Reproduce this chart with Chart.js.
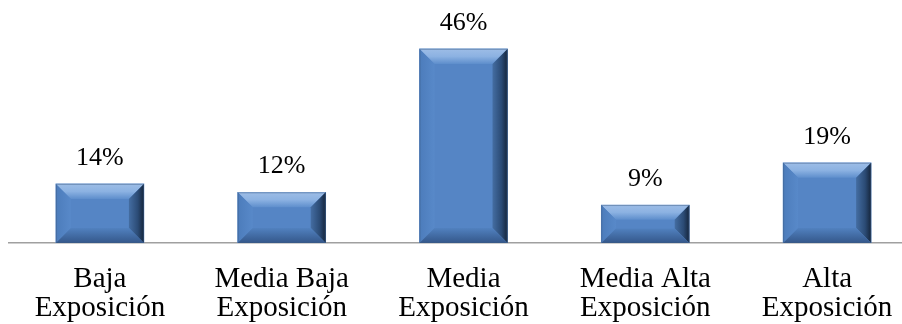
<!DOCTYPE html>
<html>
<head>
<meta charset="utf-8">
<script src="https://cdn.jsdelivr.net/npm/chart.js@4/dist/chart.umd.min.js"></script>
<style>
    html, body { margin: 0; padding: 0; background: #fff; overflow: hidden; }
    #wrap { position: relative; width: 918px; height: 324px; }
</style>
</head>
<body>
<div id="wrap"><canvas id="chart"></canvas></div>
<script>
const categories = [
    ['Baja', 'Exposición'],
    ['Media Baja', 'Exposición'],
    ['Media', 'Exposición'],
    ['Media Alta', 'Exposición'],
    ['Alta', 'Exposición'],
];
const values = [14, 12, 46, 9, 19];
const valueLabels = ['14%', '12%', '46%', '9%', '19%'];

const serif = "'Liberation Serif', 'Times New Roman', serif";

// paints the beveled look over each bar using the bar element geometry
const bevel = {
    id: 'bevel',
    afterDatasetsDraw(chart) {
        const ctx = chart.ctx;
        chart.getDatasetMeta(0).data.forEach(bar => {
            const l = bar.x - bar.width / 2, r = bar.x + bar.width / 2;
            const t = bar.y, b = bar.base;
            const h = b - t;
            const s = Math.min(15, h / 2.6);
            ctx.save();

            // top band
            let g = ctx.createLinearGradient(0, t, 0, t + s);
            g.addColorStop(0, '#9dbde6');
            g.addColorStop(0.5, '#8cb2e2');
            g.addColorStop(1, '#5e8ecc');
            ctx.fillStyle = g;
            ctx.beginPath();
            ctx.moveTo(l, t); ctx.lineTo(r, t); ctx.lineTo(r - s, t + s); ctx.lineTo(l + s, t + s);
            ctx.closePath(); ctx.fill();

            // left band
            g = ctx.createLinearGradient(l, 0, l + s, 0);
            g.addColorStop(0, '#4c7cbb');
            g.addColorStop(1, '#5889c9');
            ctx.fillStyle = g;
            ctx.beginPath();
            ctx.moveTo(l, t); ctx.lineTo(l + s, t + s); ctx.lineTo(l + s, b - s); ctx.lineTo(l, b);
            ctx.closePath(); ctx.fill();

            // right band
            g = ctx.createLinearGradient(r - s, 0, r, 0);
            g.addColorStop(0, '#446da2');
            g.addColorStop(0.6, '#2b4b75');
            g.addColorStop(1, '#15253b');
            ctx.fillStyle = g;
            ctx.beginPath();
            ctx.moveTo(r, t); ctx.lineTo(r, b); ctx.lineTo(r - s, b - s); ctx.lineTo(r - s, t + s);
            ctx.closePath(); ctx.fill();

            // bottom band
            g = ctx.createLinearGradient(0, b - s, 0, b);
            g.addColorStop(0, '#5181bf');
            g.addColorStop(1, '#34578a');
            ctx.fillStyle = g;
            ctx.beginPath();
            ctx.moveTo(l, b); ctx.lineTo(r, b); ctx.lineTo(r - s, b - s); ctx.lineTo(l + s, b - s);
            ctx.closePath(); ctx.fill();

            ctx.strokeStyle = 'rgba(60,90,130,0.45)';
            ctx.lineWidth = 1;
            ctx.strokeRect(l + 0.5, t + 0.5, r - l - 1, h - 1);
            ctx.restore();
        });
    }
};

// value labels above bars
const topLabels = {
    id: 'topLabels',
    afterDatasetsDraw(chart) {
        const ctx = chart.ctx;
        ctx.save();
        ctx.font = '26px ' + serif;
        ctx.fillStyle = '#000';
        ctx.textAlign = 'center';
        ctx.textBaseline = 'alphabetic';
        chart.getDatasetMeta(0).data.forEach((bar, i) => {
            ctx.fillText(valueLabels[i], bar.x, bar.y - 19);
        });
        ctx.restore();
    }
};

new Chart(document.getElementById('chart'), {
    type: 'bar',
    data: {
        labels: categories,
        datasets: [{
            data: values,
            backgroundColor: '#5585c5',
            borderWidth: 0,
            barThickness: 88,
        }],
    },
    options: {
        responsive: true,
        maintainAspectRatio: false,
        animation: false,
        layout: { padding: { left: 9, right: 0, top: 32, bottom: 0 } },
        plugins: {
            legend: { display: false },
            tooltip: { enabled: false },
        },
        scales: {
            x: {
                grid: { display: false, drawTicks: false },
                border: { display: true, color: '#a0a0a0', width: 1.5 },
                ticks: {
                    color: '#000',
                    font: { family: serif, size: 29, lineHeight: 1.03 },
                    padding: 21,
                    maxRotation: 0,
                    autoSkip: false,
                },
                afterFit(scale) { scale.height = 81; },
            },
            y: {
                display: false,
                min: 0,
                max: 50,
            },
        },
    },
    plugins: [bevel, topLabels],
});
</script>
</body>
</html>
